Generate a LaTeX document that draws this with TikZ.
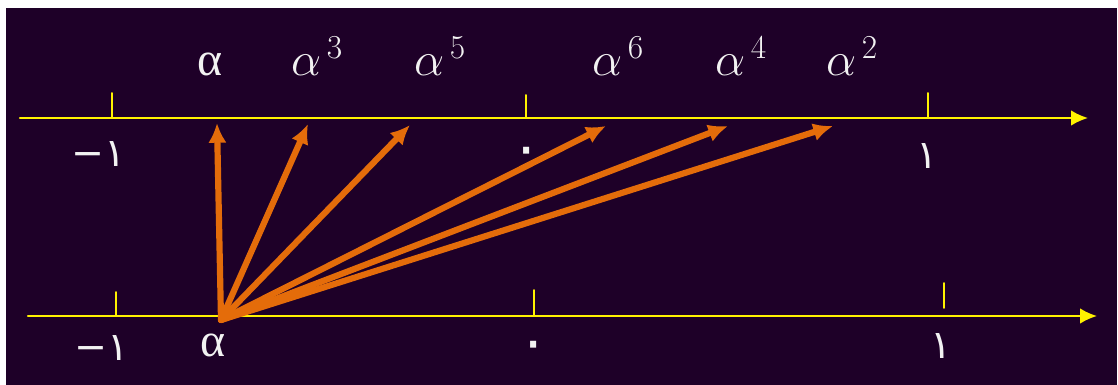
\RequirePackage{fix-cm}
\documentclass[tikz,border=0pt]{standalone}
\usepackage{fontspec}
\usetikzlibrary{arrows.meta}
\newfontfamily\arabicfont[Script=Arabic]{DejaVu Sans}
\newfontfamily\plainsans{DejaVu Sans}
\newfontfamily\uprightgreek{Liberation Serif}
\definecolor{bgpurple}{RGB}{30,0,40}
\definecolor{axisyellow}{RGB}{255,242,0}
\definecolor{vecorange}{RGB}{228,108,10}
\definecolor{labelwhite}{RGB}{242,242,242}
\tikzset{
  axisline/.style={line width=1.5pt,draw=axisyellow,-{Latex[length=12pt,width=11pt]}},
  tickline/.style={line width=1.4pt,draw=axisyellow},
  powvec/.style={line width=4.4pt,draw=vecorange,-{Latex[length=14pt,width=13pt]}},
  powlabel/.style={text=labelwhite,anchor=base,inner sep=0pt,font=\fontsize{34}{40}\selectfont},
  numlabel/.style={text=labelwhite,inner sep=0pt,font=\plainsans\fontsize{28}{32}\selectfont},
  zerolabel/.style={numlabel,font=\arabicfont\fontsize{40}{44}\selectfont},
}
\begin{document}
\begin{tikzpicture}[x=0.025cm,y=-0.025cm,line cap=round,line join=round]
  \useasboundingbox (0,0) rectangle (1118,385);
  \fill[bgpurple] (6,8) rectangle (1117,385);
  % upper line: the powers of alpha
  \draw[axisline] (20,118) -- (1088,118);
  \draw[tickline] (112,93) -- (112,118);
  \draw[tickline] (526,95) -- (526,118);
  \draw[tickline] (928,93) -- (928,118);
  \node[numlabel] (um) at (99,154) {−{\arabicfont ١}};
  \node[zerolabel] (uz) at (527,157) {٠};
  \node[numlabel] (uo) at (927,156) {\arabicfont ١};
  \node[powlabel] (lp1) at (210,76) {\uprightgreek α};
  \node[powlabel] (lp3) at (317,76) {$\alpha^{\,3}$};
  \node[powlabel] (lp5) at (440,76) {$\alpha^{\,5}$};
  \node[powlabel] (lp6) at (618,76) {$\alpha^{\,6}$};
  \node[powlabel] (lp4) at (741,76) {$\alpha^{\,4}$};
  \node[powlabel] (lp2) at (852,76) {$\alpha^{\,2}$};
  % lower line
  \draw[axisline] (28,316) -- (1097,316);
  \draw[tickline] (116,292) -- (116,316);
  \draw[tickline] (534,290) -- (534,316);
  \draw[tickline] (944,283) -- (944,308);
  \node[numlabel] (lm) at (102,348) {−{\arabicfont ١}};
  \node[zerolabel] (lz) at (534,351) {٠};
  \node[numlabel] (lo) at (941,346) {\arabicfont ١};
  \node[powlabel] (la) at (213,357) {\uprightgreek α};
  % vectors from alpha to its powers
  \coordinate (base) at (221,320);
  \coordinate (p1) at (217,123);
  \coordinate (p3) at (308,124);
  \coordinate (p5) at (410,125);
  \coordinate (p6) at (606,126);
  \coordinate (p4) at (728,126);
  \coordinate (p2) at (833,126);
  \draw[powvec] (base) -- (p1);
  \draw[powvec] (base) -- (p3);
  \draw[powvec] (base) -- (p5);
  \draw[powvec] (base) -- (p6);
  \draw[powvec] (base) -- (p4);
  \draw[powvec] (base) -- (p2);
\end{tikzpicture}
\end{document}
